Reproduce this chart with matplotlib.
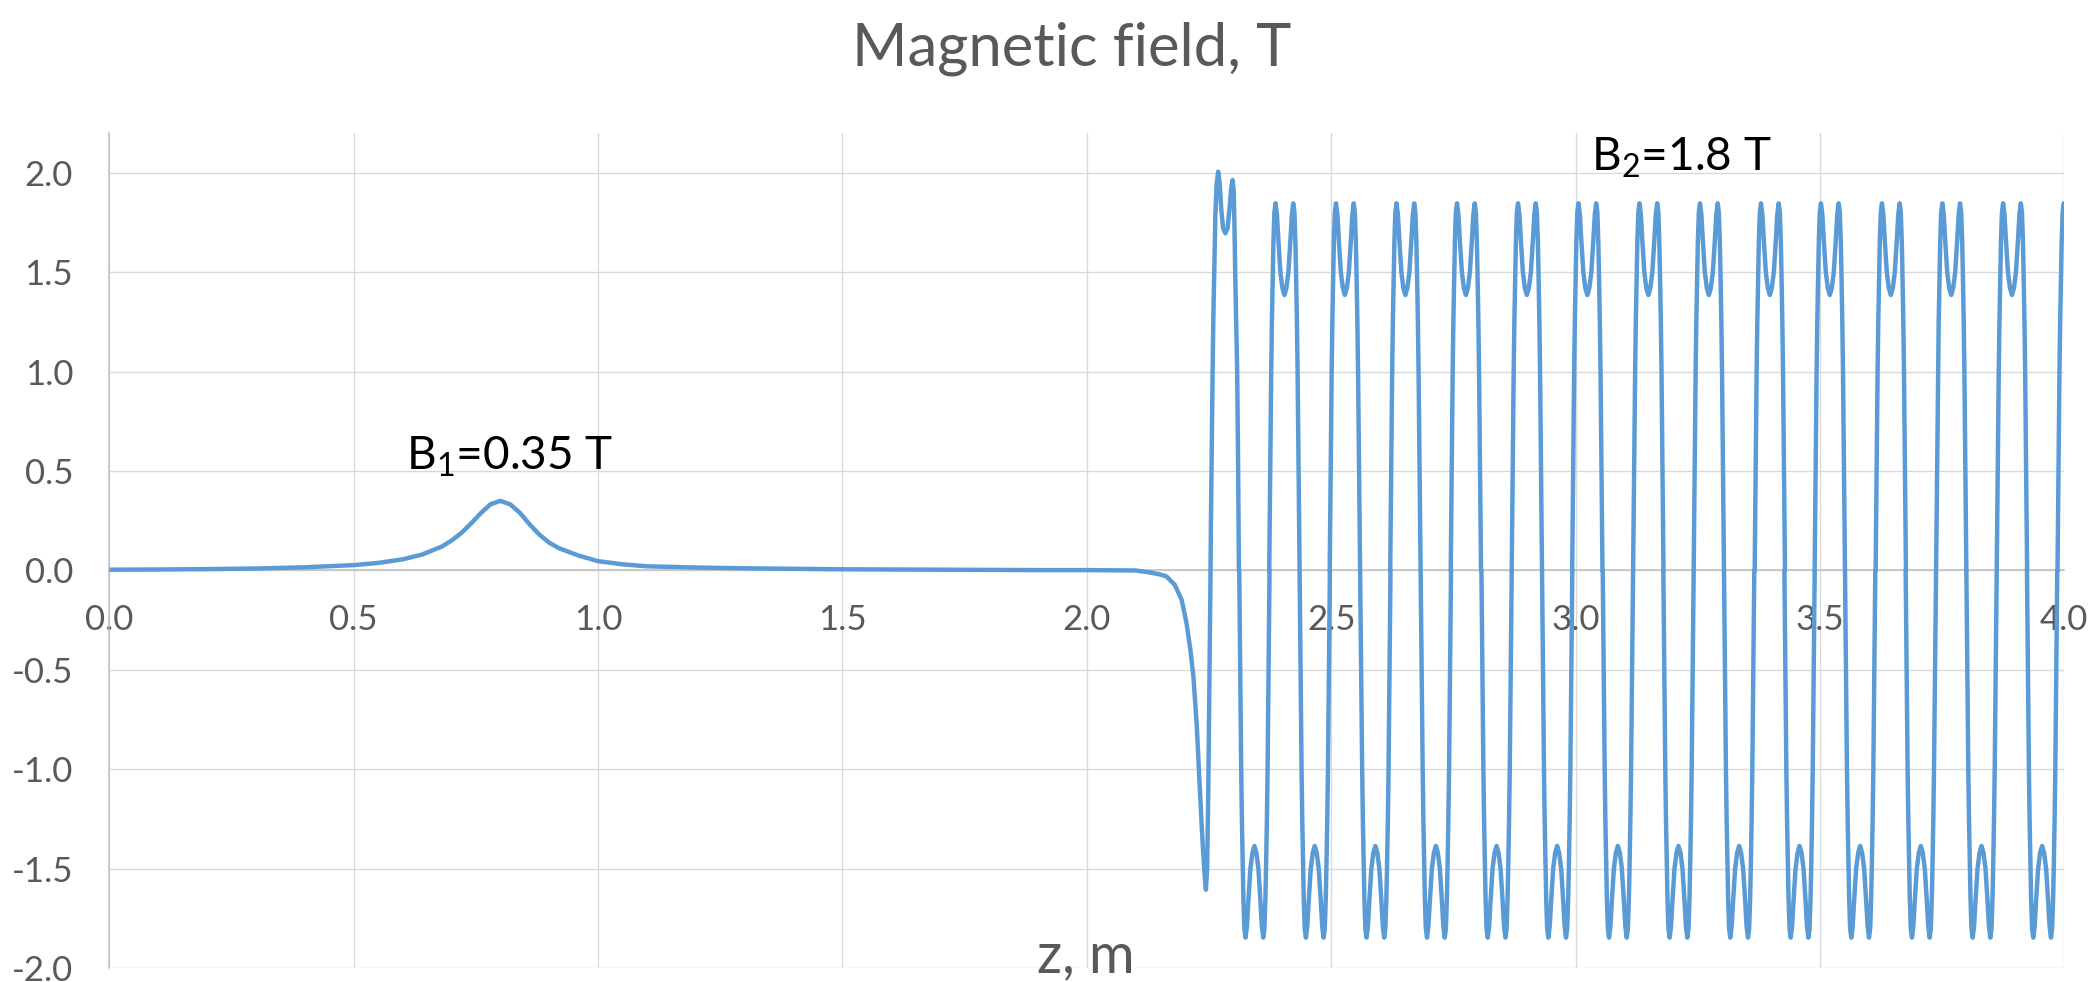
import matplotlib
matplotlib.use("Agg")
import matplotlib.pyplot as plt

plt.rcParams["font.family"] = ["Lato", "DejaVu Sans"]
plt.rcParams["mathtext.fontset"] = "custom"
plt.rcParams["mathtext.rm"] = "Lato"
plt.rcParams["mathtext.default"] = "regular"
plt.rcParams["axes.unicode_minus"] = False

# Low-field region: position along the line (m) and field (T)
z_tail = [0.00, 0.10, 0.20, 0.30, 0.40, 0.50, 0.55, 0.60, 0.64, 0.68, 0.70,
          0.72, 0.74, 0.76, 0.78, 0.80, 0.82, 0.84, 0.86, 0.88, 0.90, 0.92,
          0.96, 1.00, 1.05, 1.10, 1.20, 1.30, 1.50, 1.70, 1.90, 2.00, 2.05,
          2.10]
b_tail = [0.004, 0.005, 0.007, 0.010, 0.016, 0.027, 0.038, 0.056, 0.080,
          0.120, 0.150, 0.188, 0.236, 0.288, 0.333, 0.350, 0.333, 0.290,
          0.232, 0.180, 0.140, 0.112, 0.075, 0.047, 0.031, 0.021, 0.015,
          0.011, 0.006, 0.004, 0.002, 0.002, 0.001, 0.000]

# Entrance of the undulator: fringe field, first trough and first peak pair
z_entry = [2.129, 2.150, 2.163, 2.180, 2.194, 2.204, 2.212, 2.218, 2.225,
           2.231, 2.237, 2.2410, 2.2437, 2.2462, 2.2485, 2.2506, 2.2528,
           2.2540, 2.2557, 2.2574, 2.2590, 2.2607, 2.2630, 2.2655, 2.2688,
           2.2718, 2.2750, 2.2790, 2.2836, 2.2880, 2.2920, 2.2955, 2.2983,
           2.3006, 2.3022, 2.3036, 2.3057, 2.3077, 2.3097, 2.3112]
b_entry = [-0.010, -0.020, -0.030, -0.072, -0.147, -0.264, -0.400, -0.530,
           -0.780, -1.085, -1.370, -1.530, -1.605, -1.500, -1.120, -0.620,
           -0.100, 0.250, 0.650, 1.000, 1.280, 1.500, 1.780, 1.940, 2.005,
           1.950, 1.820, 1.720, 1.695, 1.720, 1.820, 1.920, 1.963, 1.910,
           1.720, 1.500, 1.250, 1.000, 0.500, 0.000]

# One half-period of the periodic field: distance from lobe centre (m), |B| (T)
lobe_dz = [0.0, 0.0041, 0.0082, 0.0123, 0.0153, 0.0181, 0.0205, 0.0225,
           0.0238, 0.0256, 0.0270, 0.0291, 0.0310]
lobe_b = [1.385, 1.420, 1.500, 1.660, 1.790, 1.846, 1.800, 1.650, 1.500,
          1.250, 1.000, 0.500, 0.000]

# Centres of the positive and negative lobes (m)
pos_lobe_z = [2.4043, 2.5280, 2.6518, 2.7756, 2.9004, 3.0241, 3.1489, 3.2727,
              3.3975, 3.5202, 3.6450, 3.7686, 3.8929, 4.0171]
neg_lobe_z = [2.3429, 2.4664, 2.5904, 2.7142, 2.8384, 2.9624, 3.0866, 3.2106,
              3.3347, 3.4583, 3.5823, 3.7064, 3.8306, 3.9546]

x_ticks = [0.0, 0.5, 1.0, 1.5, 2.0, 2.5, 3.0, 3.5, 4.0]
y_ticks = [-2.0, -1.5, -1.0, -0.5, 0.0, 0.5, 1.0, 1.5, 2.0]

# Assemble the full field profile
z_all = list(z_tail) + list(z_entry)
b_all = list(b_tail) + list(b_entry)
lobes = sorted([(c, 1.0) for c in pos_lobe_z] + [(c, -1.0) for c in neg_lobe_z])
for c, s in lobes:
    for dz, b in zip(lobe_dz[:0:-1], lobe_b[:0:-1]):
        z_all.append(c - dz)
        b_all.append(s * b)
    for dz, b in zip(lobe_dz, lobe_b):
        z_all.append(c + dz)
        b_all.append(s * b)

W, H, DPI = 2093, 982, 100
fig = plt.figure(figsize=(W / DPI, H / DPI), dpi=DPI)
ax = fig.add_axes([109.3 / W, 1 - 968.3 / H, 1955.0 / W, (968.3 - 132.9) / H])

grey_text = "#595959"
ax.plot(z_all, b_all, color="#5B9BD5", lw=3.2, solid_joinstyle="round",
        solid_capstyle="butt", zorder=3)

ax.set_xlim(0.0, 4.0)
ax.set_ylim(-2.0, 2.2)
ax.set_xticks(x_ticks)
ax.set_yticks(y_ticks)
ax.set_xticklabels([f"{v:.1f}" for v in x_ticks])
ax.set_yticklabels([f"{v:.1f}" for v in y_ticks])
ax.grid(True, color="#D9D9D9", lw=0.95, zorder=0)
ax.set_axisbelow(True)

for side in ("top", "right"):
    ax.spines[side].set_visible(False)
ax.spines["bottom"].set_position(("data", 0.0))
for side in ("bottom", "left"):
    ax.spines[side].set_color("#BFBFBF")
    ax.spines[side].set_linewidth(1.1)
    ax.spines[side].set_zorder(2)

ax.tick_params(axis="x", length=0, pad=24, labelsize=25, labelcolor=grey_text)
ax.tick_params(axis="y", length=0, pad=26, labelsize=25, labelcolor=grey_text)

ax.text(0.607, 0.506, "B$_1$=0.35 T", fontsize=33, color="black",
        ha="left", va="baseline", zorder=4)
ax.text(3.032, 2.011, "B$_2$=1.8 T", fontsize=33, color="black",
        ha="left", va="baseline", zorder=4)

fig.text(1072 / W, 1 - 65 / H, "Magnetic field, T", fontsize=43,
         color=grey_text, ha="center", va="baseline")
fig.text(1086 / W, 1 - 972 / H, "z, m", fontsize=40,
         color=grey_text, ha="center", va="baseline")

fig.savefig("out.png", dpi=DPI, facecolor="white")
